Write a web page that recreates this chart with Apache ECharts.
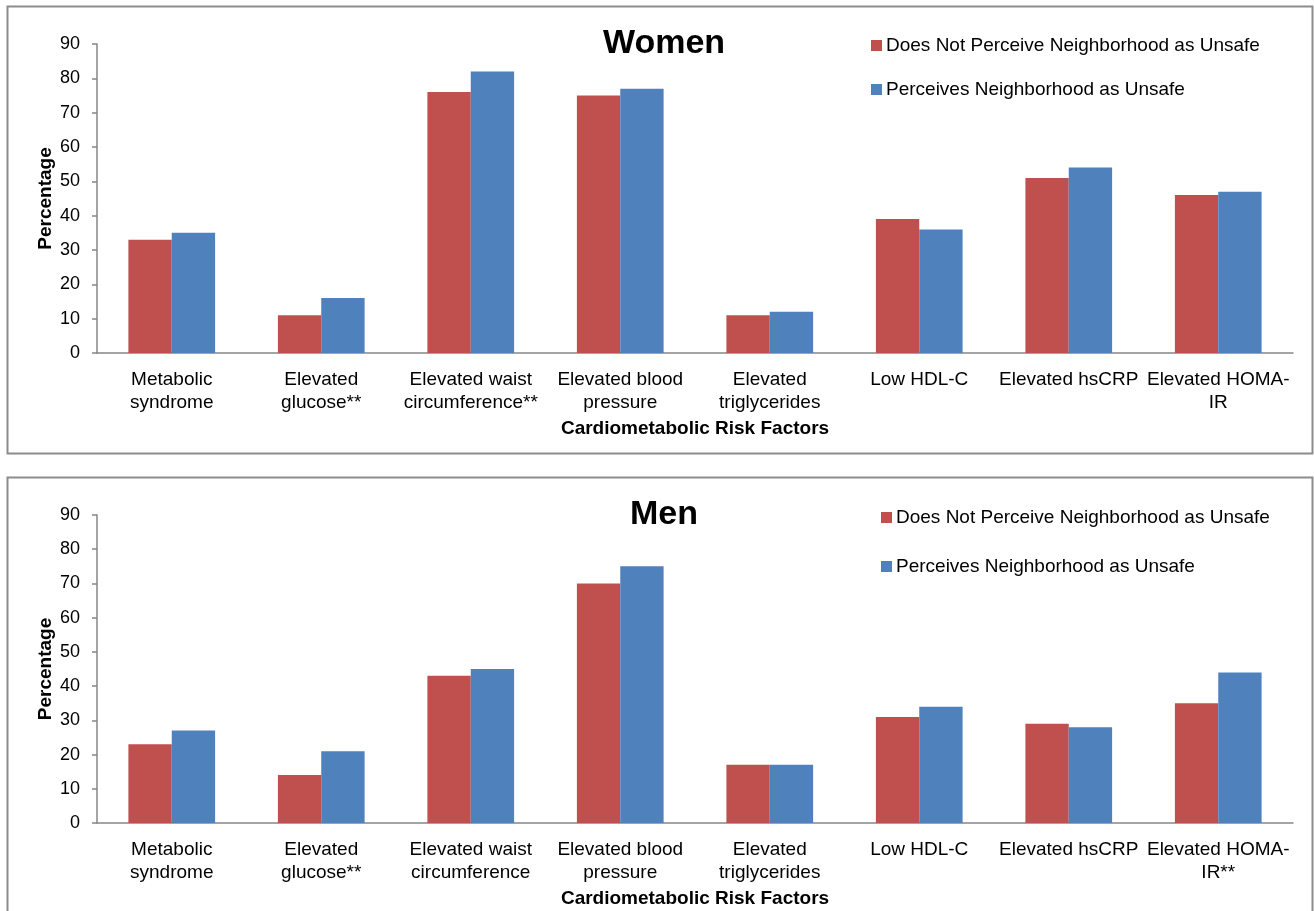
<!DOCTYPE html>
<html>
<head>
<meta charset="utf-8">
<script src="https://cdn.jsdelivr.net/npm/echarts@6/dist/echarts.min.js"></script>
<style>html,body{margin:0;padding:0;background:#fff;}#c{width:1314px;height:911px;}</style>
</head>
<body>
<div id="c"></div>
<script>
const categoriesWomen = ["Metabolic\nsyndrome","Elevated\nglucose**","Elevated waist\ncircumference**","Elevated blood\npressure","Elevated\ntriglycerides","Low HDL-C","Elevated hsCRP","Elevated HOMA-\nIR"];
const categoriesMen = ["Metabolic\nsyndrome","Elevated\nglucose**","Elevated waist\ncircumference","Elevated blood\npressure","Elevated\ntriglycerides","Low HDL-C","Elevated hsCRP","Elevated HOMA-\nIR**"];
const womenNotUnsafe = [33, 11, 76, 75, 11, 39, 51, 46];
const womenUnsafe = [35, 16, 82, 77, 12, 36, 54, 47];
const menNotUnsafe = [23, 14, 43, 70, 17, 31, 29, 35];
const menUnsafe = [27, 21, 45, 75, 17, 34, 28, 44];
const yTicks = [0, 90, 10];
const seriesNames = ["Does Not Perceive Neighborhood as Unsafe", "Perceives Neighborhood as Unsafe"];
const titles = ["Women", "Men"];
const xName = "Cardiometabolic Risk Factors";
const yName = "Percentage";

const FONT = 'Liberation Sans, Arial, sans-serif';
const RED = '#C0504D', BLUE = '#4F81BD', AX = '#868686';

function xAxis(gi, cats) {
  return {
    type: 'category', gridIndex: gi, data: cats,
    axisLine: {lineStyle: {color: AX, width: 1.5}},
    axisTick: {show: false},
    axisLabel: {fontFamily: FONT, fontSize: 19, color: '#000', margin: 15, lineHeight: 23, interval: 0},
    name: xName, nameLocation: 'middle', nameGap: 66, nameMoveOverlap: false,
    nameTextStyle: {fontFamily: FONT, fontSize: 19, fontWeight: 'bold', color: '#000'}
  };
}
function yAxis(gi) {
  return {
    type: 'value', gridIndex: gi, min: yTicks[0], max: yTicks[1], interval: yTicks[2],
    axisLine: {show: true, lineStyle: {color: AX, width: 1.5}},
    axisTick: {show: true, length: 5, lineStyle: {color: AX, width: 1.5}},
    splitLine: {show: false},
    axisLabel: {fontFamily: FONT, fontSize: 18, color: '#000', margin: 17},
    name: yName, nameLocation: 'middle', nameGap: 42, nameRotate: 90, nameMoveOverlap: false,
    nameTextStyle: {fontFamily: FONT, fontSize: 19, fontWeight: 'bold', color: '#000'}
  };
}
function bar(name, data, color, gi) {
  return {
    type: 'bar', name: name, data: data, xAxisIndex: gi, yAxisIndex: gi,
    itemStyle: {color: color}, barGap: '0%', barCategoryGap: '42%',
    legendHoverLink: false
  };
}
const chart = echarts.init(document.getElementById('c'), null, {renderer: 'canvas'});
chart.setOption({
  animation: false,
  backgroundColor: '#fff',
  title: [
    {text: titles[0], left: 659, top: 22, textAlign: 'center', textStyle: {fontFamily: FONT, fontSize: 34, fontWeight: 'bold', color: '#000'}},
    {text: titles[1], left: 659, top: 493, textAlign: 'center', textStyle: {fontFamily: FONT, fontSize: 34, fontWeight: 'bold', color: '#000'}}
  ],
  legend: [
    {seriesIndex: [0,1], data: [{name: seriesNames[0]}, {name: seriesNames[1]}], orient: 'vertical', left: 866, top: 31, itemWidth: 11, itemHeight: 11, itemGap: 25, icon: 'rect', selectedMode: false,
     textStyle: {fontFamily: FONT, fontSize: 19, color: '#000', padding: [0,0,0,-1]}},
    {data: [{name: seriesNames[0] + ' '}, {name: seriesNames[1] + ' '}], orient: 'vertical', left: 876, top: 503, itemWidth: 11, itemHeight: 11, itemGap: 30, icon: 'rect', selectedMode: false,
     textStyle: {fontFamily: FONT, fontSize: 19, color: '#000', padding: [0,0,0,-1]}}
  ],
  grid: [
    {left: 97, right: 21, top: 44, height: 309},
    {left: 97, right: 21, top: 515, height: 308}
  ],
  xAxis: [xAxis(0, categoriesWomen), xAxis(1, categoriesMen)],
  yAxis: [yAxis(0), yAxis(1)],
  series: [
    bar(seriesNames[0], womenNotUnsafe, RED, 0),
    bar(seriesNames[1], womenUnsafe, BLUE, 0),
    bar(seriesNames[0] + ' ', menNotUnsafe, RED, 1),
    bar(seriesNames[1] + ' ', menUnsafe, BLUE, 1)
  ],
  graphic: [
    {type: 'rect', shape: {x: 7.5, y: 6.5, width: 1305, height: 447}, style: {fill: null, stroke: '#8c8c8c', lineWidth: 2}, silent: true},
    {type: 'rect', shape: {x: 7.5, y: 477.5, width: 1305, height: 450}, style: {fill: null, stroke: '#8c8c8c', lineWidth: 2}, silent: true}
  ]
});
</script>
</body>
</html>
